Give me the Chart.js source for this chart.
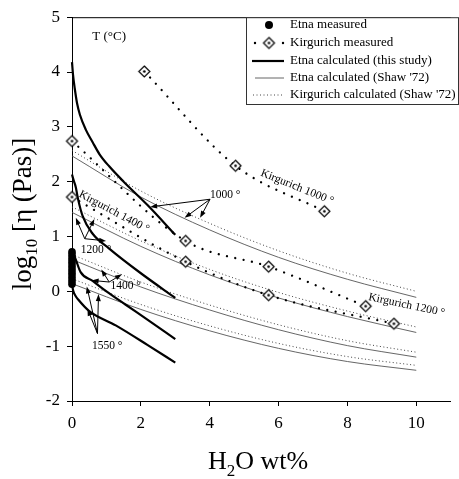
<!DOCTYPE html>
<html><head><meta charset="utf-8">
<script src="https://cdn.jsdelivr.net/npm/chart.js@4"></script>
<style>html,body{margin:0;padding:0;background:#fff}#wrap{width:459px;height:479px;position:relative}</style>
</head><body><div id="wrap"><canvas id="c"></canvas></div>
<script>
const xTicks=[0,2,4,6,8,10];
const yTicks=[-2,-1,0,1,2,3,4,5];

const etnaMeasX=[0,0,0,0,0,0,0,0,0,0,0,0,0];
const etnaMeasY=[0.13,0.18,0.23,0.28,0.33,0.38,0.43,0.48,0.53,0.58,0.63,0.68,0.72];

const kirg1000X=[2.10,4.75,7.33]; const kirg1000Y=[4.01,2.29,1.46];
const kirg1200X=[0,3.30,5.71,8.53]; const kirg1200Y=[2.74,0.92,0.45,-0.27];
const kirg1400X=[0,3.30,5.71,9.35]; const kirg1400Y=[1.72,0.54,-0.07,-0.59];

const calc1000X=[0,0.03,0.08,0.15,0.23,0.4,0.6,0.8,1.08,1.5,2.2,3.0];
const calc1000Y=[4.18,3.95,3.7,3.42,3.22,2.95,2.72,2.5,2.28,2.0,1.57,1.03];
const calc1200X=[0,0.05,0.11,0.17,0.31,0.6,1.08,2.0,3.0];
const calc1200Y=[2.13,2.02,1.9,1.7,1.37,1.05,0.78,0.33,-0.12];
const calc1400X=[0,0.05,0.11,0.25,0.6,1.0,1.55,2.2,3.0];
const calc1400Y=[0.75,0.68,0.58,0.35,0.19,0.0,-0.24,-0.52,-0.87];
const calc1550X=[0,0.04,0.1,0.18,0.5,1.27,2.2,3.0];
const calc1550Y=[0.12,0.0,-0.08,-0.15,-0.36,-0.62,-0.98,-1.3];

const shawX=[0,2,4,6,8,10];
const etnaShaw1000=[2.47,1.72,1.12,0.62,0.22,-0.11];
const etnaShaw1200=[1.44,0.82,0.30,-0.12,-0.46,-0.75];
const etnaShaw1400=[0.58,0.08,-0.34,-0.70,-0.99,-1.20];
const etnaShaw1550=[0.14,-0.33,-0.72,-1.04,-1.28,-1.44];
const kirgShaw1000=[2.57,1.83,1.24,0.74,0.33,0.00];
const kirgShaw1200=[1.54,0.92,0.40,-0.02,-0.36,-0.65];
const kirgShaw1400=[0.67,0.17,-0.25,-0.61,-0.90,-1.11];
const kirgShaw1550=[0.23,-0.24,-0.63,-0.95,-1.19,-1.35];

const legendLabels=['Etna measured','Kirgurich measured','Etna calculated (this study)','Etna calculated (Shaw \'72)','Kirgurich calculated (Shaw \'72)'];

const textLabels=[
  {t:'T (°C)', x:1.08, y:4.64, r:0, s:13},
  {t:'1000 °', x:4.45, y:1.75, r:0, s:11.5},
  {t:'Kirgurich 1400 °', x:1.22, y:1.45, r:28, s:11.5},
  {t:'Kirgurich 1000 °', x:6.54, y:1.90, r:22, s:11.5},
  {t:'Kirgurich 1200 °', x:9.72, y:-0.25, r:12, s:11.5},
  {t:'1200 °', x:0.70, y:0.76, r:0, s:11.5},
  {t:'1400 °', x:1.56, y:0.09, r:0, s:11.5},
  {t:'1550 °', x:1.02, y:-0.99, r:0, s:11.5}
];
const arrows=[
  {from:[4.01,1.68], to:[[2.27,1.54],[3.27,1.34],[3.72,1.34]]},
  {from:[0.37,0.96], to:[[0.11,1.34],[0.65,1.32],[0.99,0.92]]},
  {from:[1.08,0.17], to:[[0.57,0.20],[0.85,0.40],[1.45,0.31]]},
  {from:[0.74,-0.77], to:[[0.43,0.09],[0.77,-0.05],[0.45,-0.32]]}
];

const pts=(xs,ys)=>xs.map((x,i)=>({x:x,y:ys[i]}));

function makeDiamond(){
  const c=document.createElement('canvas'); c.width=15; c.height=15;
  const g=c.getContext('2d'); const m=7.5;
  g.fillStyle='#fff'; g.strokeStyle='#000'; g.lineWidth=1.2;
  g.beginPath(); g.moveTo(m,m-5.5); g.lineTo(m+5.5,m); g.lineTo(m,m+5.5); g.lineTo(m-5.5,m); g.closePath(); g.fill(); g.stroke();
  g.fillStyle='#000'; g.beginPath(); g.arc(m,m,1.3,0,Math.PI*2); g.fill();
  return c;
}
const diamond=makeDiamond();

const SERIF='"Liberation Serif", "DejaVu Serif", serif';

function measuredLine(xs,ys){
  return {data:pts(xs,ys), showLine:true, borderColor:'#000', borderWidth:2.3, borderDash:[0.01,8.5], borderCapStyle:'round',
    pointStyle:diamond, pointRadius:6, backgroundColor:'#fff', cubicInterpolationMode:'monotone', clip:false};
}
function thick(xs,ys){
  return {data:pts(xs,ys), showLine:true, borderColor:'#000', borderWidth:2.2, pointRadius:0, cubicInterpolationMode:'monotone', clip:false};
}
function etnaShaw(ys){
  return {data:pts(shawX,ys), showLine:true, borderColor:'#555', borderWidth:0.9, pointRadius:0, cubicInterpolationMode:'monotone'};
}
function kirgShaw(ys){
  return {data:pts(shawX,ys), showLine:true, borderColor:'#444', borderWidth:1, borderDash:[1,2.5], pointRadius:0, cubicInterpolationMode:'monotone'};
}

const decor={
  id:'decor',
  afterDatasetsDraw(chart){
    const ctx=chart.ctx, xs=chart.scales.x, ys=chart.scales.y, ca=chart.chartArea;
    const px=v=>xs.getPixelForValue(v), py=v=>ys.getPixelForValue(v);
    ctx.save();
    ctx.strokeStyle='#000'; ctx.lineWidth=1;
    ctx.beginPath(); ctx.moveTo(ca.left,ca.top+0.5); ctx.lineTo(ca.right,ca.top+0.5); ctx.stroke();
    ctx.lineWidth=1; ctx.fillStyle='#000';
    arrows.forEach(a=>{
      const ox=px(a.from[0]), oy=py(a.from[1]);
      a.to.forEach(t=>{
        const tx=px(t[0]), ty=py(t[1]);
        const ang=Math.atan2(ty-oy,tx-ox);
        ctx.beginPath(); ctx.moveTo(ox,oy); ctx.lineTo(tx-5*Math.cos(ang),ty-5*Math.sin(ang)); ctx.stroke();
        ctx.beginPath(); ctx.moveTo(tx,ty);
        ctx.lineTo(tx-7*Math.cos(ang)+2.5*Math.sin(ang), ty-7*Math.sin(ang)-2.5*Math.cos(ang));
        ctx.lineTo(tx-7*Math.cos(ang)-2.5*Math.sin(ang), ty-7*Math.sin(ang)+2.5*Math.cos(ang));
        ctx.closePath(); ctx.fill();
      });
    });
    ctx.textAlign='center'; ctx.textBaseline='middle';
    textLabels.forEach(l=>{
      ctx.save(); ctx.translate(px(l.x),py(l.y)); ctx.rotate(l.r*Math.PI/180);
      ctx.font=l.s+'px '+SERIF;
      ctx.fillStyle='#000'; ctx.fillText(l.t,0,0); ctx.restore();
    });
    const L=246.5, T=ca.top+0.5, R=chart.width-0.5, B=104.5;
    ctx.fillStyle='#fff'; ctx.fillRect(L,T,R-L,B-T);
    ctx.strokeStyle='#333'; ctx.lineWidth=1; ctx.strokeRect(L,T,R-L,B-T);
    const rows=[25,43,61,78,95];
    ctx.fillStyle='#000';
    ctx.beginPath(); ctx.arc(269,rows[0],4,0,Math.PI*2); ctx.fill();
    ctx.beginPath(); ctx.arc(255,rows[1],1.2,0,Math.PI*2); ctx.arc(283,rows[1],1.2,0,Math.PI*2); ctx.fill();
    ctx.drawImage(diamond,269-7.5,rows[1]-7.5);
    ctx.strokeStyle='#000';
    ctx.lineWidth=2.2; ctx.beginPath(); ctx.moveTo(252,rows[2]); ctx.lineTo(284,rows[2]); ctx.stroke();
    ctx.lineWidth=0.9; ctx.strokeStyle='#555'; ctx.beginPath(); ctx.moveTo(255,rows[3]); ctx.lineTo(284,rows[3]); ctx.stroke();
    ctx.lineWidth=1; ctx.strokeStyle='#444'; ctx.setLineDash([1,2.5]); ctx.beginPath(); ctx.moveTo(253,rows[4]); ctx.lineTo(284,rows[4]); ctx.stroke(); ctx.setLineDash([]);
    ctx.font='13px '+SERIF; ctx.textAlign='left'; ctx.textBaseline='middle'; ctx.fillStyle='#000';
    legendLabels.forEach((t,i)=>ctx.fillText(t,290,rows[i]));
    const big='26px '+SERIF, sub='17px '+SERIF;
    ctx.textBaseline='alphabetic';
    ctx.font=big; const wH=ctx.measureText('H').width, wRest=ctx.measureText('O wt%').width;
    ctx.font=sub; const w2=ctx.measureText('2').width;
    let x0=258-(wH+w2+wRest)/2, base=469;
    ctx.font=big; ctx.fillText('H',x0,base);
    ctx.font=sub; ctx.fillText('2',x0+wH,base+7);
    ctx.font=big; ctx.fillText('O wt%',x0+wH+w2,base);
    const bigY='27px '+SERIF, subY='17px '+SERIF;
    ctx.save(); ctx.translate(31,214); ctx.rotate(-Math.PI/2);
    ctx.font=bigY; const wl=ctx.measureText('log').width, wr=ctx.measureText(' [η (Pas)]').width;
    ctx.font=subY; const w10=ctx.measureText('10').width;
    let s0=-(wl+w10+wr)/2;
    ctx.font=bigY; ctx.fillText('log',s0,0);
    ctx.font=subY; ctx.fillText('10',s0+wl,6);
    ctx.font=bigY; ctx.fillText(' [η (Pas)]',s0+wl+w10,0);
    ctx.restore();
    ctx.restore();
  }
};

new Chart(document.getElementById('c'),{
  type:'scatter',
  data:{datasets:[
    {data:pts(etnaMeasX,etnaMeasY), pointStyle:'circle', pointRadius:3.8, backgroundColor:'#000', borderColor:'#000', borderWidth:0, clip:false},
    measuredLine(kirg1000X,kirg1000Y),
    measuredLine(kirg1200X,kirg1200Y),
    measuredLine(kirg1400X,kirg1400Y),
    thick(calc1000X,calc1000Y), thick(calc1200X,calc1200Y), thick(calc1400X,calc1400Y), thick(calc1550X,calc1550Y),
    etnaShaw(etnaShaw1000), etnaShaw(etnaShaw1200), etnaShaw(etnaShaw1400), etnaShaw(etnaShaw1550),
    kirgShaw(kirgShaw1000), kirgShaw(kirgShaw1200), kirgShaw(kirgShaw1400), kirgShaw(kirgShaw1550)
  ]},
  options:{
    responsive:true, maintainAspectRatio:false, animation:false,
    layout:{padding:{top:13,right:0,left:0,bottom:0}},
    plugins:{legend:{display:false}, tooltip:{enabled:false}},
    events:[],
    scales:{
      x:{type:'linear', min:0, max:11,
        afterBuildTicks:s=>{s.ticks=xTicks.map(v=>({value:v}));},
        afterFit:s=>{s.height=78;},
        grid:{drawOnChartArea:false, drawTicks:true, tickLength:5, color:'#000'},
        border:{display:true, color:'#000', width:1},
        ticks:{font:{family:SERIF, size:17}, color:'#000', padding:7, maxRotation:0}
      },
      y:{type:'linear', min:-2, max:5,
        afterBuildTicks:s=>{s.ticks=yTicks.map(v=>({value:v}));},
        afterFit:s=>{s.width=72;},
        grid:{drawOnChartArea:false, drawTicks:true, tickLength:5, color:'#000'},
        border:{display:true, color:'#000', width:1},
        ticks:{font:{family:SERIF, size:17}, color:'#000', padding:7}
      }
    }
  },
  plugins:[decor]
});
</script></body></html>
